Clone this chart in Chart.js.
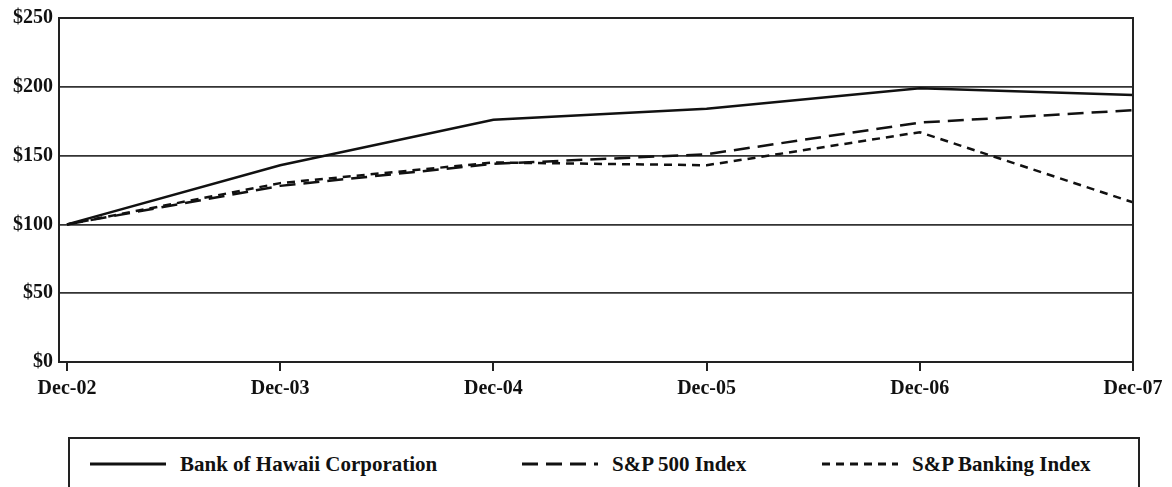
<!DOCTYPE html>
<html>
<head>
<meta charset="utf-8">
<script src="https://cdn.jsdelivr.net/npm/chart.js@4"></script>
<style>
  html, body { margin: 0; padding: 0; background: #fff; }
  body { width: 1172px; height: 487px; position: relative; overflow: hidden; font-family: "Liberation Serif", "DejaVu Serif", serif; }
  #wrap { position: absolute; left: 0; top: 0; width: 1172px; height: 407px; }
  #legend { position: absolute; left: 68px; top: 437px; width: 1072px; height: 60px; border: 2px solid #222; box-sizing: border-box; }
  .item { position: absolute; top: 13px; font-weight: bold; font-size: 21px; color: #111; white-space: nowrap; }
  .item svg { vertical-align: middle; margin-right: 14px; position: relative; top: -2px; }
</style>
</head>
<body>
<div id="wrap"><canvas id="c"></canvas></div>
<div id="legend"></div>
<script>
// data
const categories = ['Dec-02', 'Dec-03', 'Dec-04', 'Dec-05', 'Dec-06', 'Dec-07'];
const bankOfHawaii = [100, 143, 176, 184, 199, 194];
const sp500 = [100, 128, 144, 151, 174, 183];
const spBanking = [100, 130, 145, 143, 167, 116];
const yTicks = [0, 50, 100, 150, 200, 250];

const seriesNames = ['Bank of Hawaii Corporation', 'S&P 500 Index', 'S&P Banking Index'];
const dashes = [[], [16, 8], [8, 6]];

const font = { family: '"Liberation Serif", serif', size: 20, weight: 'bold' };

const plotBorder = {
  id: 'plotBorder',
  afterDatasetsDraw(chart) {
    const a = chart.chartArea, ctx = chart.ctx;
    ctx.save();
    ctx.strokeStyle = '#222';
    ctx.lineWidth = 2;
    ctx.strokeRect(a.left, a.top, a.right - a.left, a.bottom - a.top);
    ctx.restore();
  }
};

new Chart(document.getElementById('c'), {
  type: 'line',
  data: {
    datasets: [bankOfHawaii, sp500, spBanking].map((d, i) => ({
      label: seriesNames[i],
      data: d.map((v, j) => ({ x: j, y: v })),
      borderColor: '#111',
      borderWidth: 2.5,
      borderDash: dashes[i],
      pointRadius: 0,
      tension: 0,
      fill: false
    }))
  },
  options: {
    responsive: true,
    maintainAspectRatio: false,
    animation: false,
    layout: { padding: { top: 8, right: 39, left: 0, bottom: 0 } },
    plugins: { legend: { display: false }, tooltip: { enabled: false } },
    scales: {
      x: {
        type: 'linear',
        min: -0.0375, max: categories.length - 1,
        afterBuildTicks(scale) { scale.ticks = categories.map((c, i) => ({ value: i })); },
        grid: { drawOnChartArea: false, drawTicks: true, tickLength: 9, color: '#222', lineWidth: 2 },
        border: { display: true, color: '#222', width: 2 },
        ticks: { color: '#111', font: font, padding: 6, maxRotation: 0, autoSkip: false, callback: v => categories[v] }
      },
      y: {
        min: 0, max: 250,
        afterBuildTicks(scale) { scale.ticks = yTicks.map(v => ({ value: v })); },
        afterFit(scale) { scale.width = 59; },
        grid: { color: '#333', lineWidth: 1.8, drawTicks: false },
        border: { display: true, color: '#222', width: 2 },
        ticks: { color: '#111', font: font, padding: 6, callback: v => '$' + v }
      }
    }
  },
  plugins: [plotBorder]
});

// legend
const legend = document.getElementById('legend');
const lefts = [20, 452, 752];
seriesNames.forEach((name, i) => {
  const div = document.createElement('div');
  div.className = 'item';
  div.style.left = lefts[i] + 'px';
  const da = dashes[i].length ? dashes[i].join(',') : 'none';
  div.innerHTML = '<svg width="76" height="6"><line x1="0" y1="3" x2="76" y2="3" stroke="#111" stroke-width="3" stroke-dasharray="' + da + '"/></svg>' + name.replace('&', '&amp;');
  legend.appendChild(div);
});
</script>
</body>
</html>
